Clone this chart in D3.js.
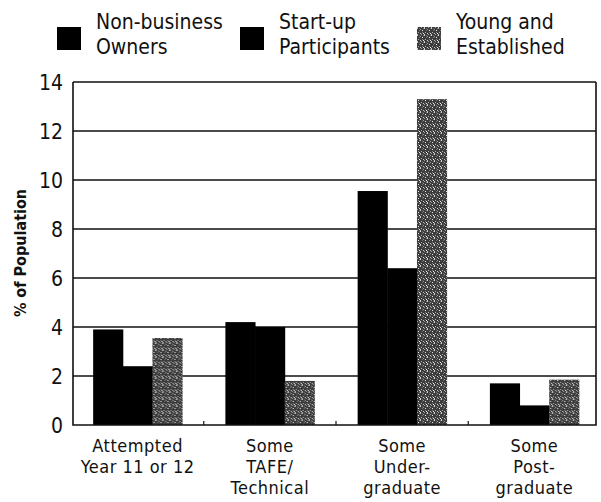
<!DOCTYPE html>
<html><head><meta charset="utf-8">
<script src="https://cdn.jsdelivr.net/npm/d3@7"></script>
<style>body{margin:0;background:#fff}svg{display:block}</style>
</head><body>
<svg id="c" width="601" height="502"></svg>
<script>
// ---- data ----
const categories = ["Attempted|Year 11 or 12", "Some|TAFE/|Technical", "Some|Under-|graduate", "Some|Post-|graduate"];
const seriesNames = ["Non-business|Owners", "Start-up|Participants", "Young and|Established"];
const nonBusiness = [3.9, 4.2, 9.55, 1.7];
const startUp = [2.4, 4.0, 6.4, 0.8];
const youngEstablished = [3.55, 1.8, 13.3, 1.85];
const yTicks = [0, 2, 4, 6, 8, 10, 12, 14];
const seriesValues = [nonBusiness, startUp, youngEstablished];

// ---- layout ----
const svg = d3.select("#c");
const FONT = "'DejaVu Sans Condensed', Roboto, sans-serif";
const pLeft = 73, pRight = 596, pTop = 82, pBottom = 425;

const defs = svg.append("defs");
const pat = defs.append("pattern").attr("id", "speck").attr("patternUnits", "userSpaceOnUse")
  .attr("width", 7).attr("height", 7);
pat.append("rect").attr("width", 7).attr("height", 7).attr("fill", "#3c3c3c");
[[0,0,"#cfcfcf"],[3,1,"#9a9a9a"],[5,2,"#e8e8e8"],[1,4,"#b0b0b0"],[6,5,"#f0f0f0"],[4,6,"#a0a0a0"],[2,2,"#707070"],[5,4,"#808080"],[0,6,"#d0d0d0"],[6,0,"#777"],[3,5,"#c8c8c8"],[2,0,"#666"]]
  .forEach(([x,y,c]) => pat.append("rect").attr("x", x).attr("y", y).attr("width", 1).attr("height", 1).attr("fill", c));

const fills = ["#000", "#000", "url(#speck)"];

const y = d3.scaleLinear().domain([0, 14]).range([pBottom, pTop]);
const x0 = d3.scaleBand().domain(categories).range([71.5, 600.5]).padding(0);
const x1 = d3.scaleBand().domain(seriesNames).range([0, x0.bandwidth()]).paddingInner(0).paddingOuter(0.73);

// gridlines
svg.append("g").selectAll("line").data(yTicks.filter(d => d > 0)).join("line")
  .attr("x1", pLeft).attr("x2", pRight).attr("y1", d => y(d)).attr("y2", d => y(d))
  .attr("stroke", "#111").attr("stroke-width", 1.4);

// bars
const groups = svg.append("g").selectAll("g").data(categories).join("g")
  .attr("transform", d => `translate(${x0(d)},0)`);
groups.selectAll("rect").data((c, i) => seriesNames.map((s, k) => ({s, k, v: seriesValues[k][i]}))).join("rect")
  .attr("x", d => x1(d.s)).attr("width", x1.bandwidth() + 0.5)
  .attr("y", d => y(d.v)).attr("height", d => y(0) - y(d.v))
  .attr("fill", d => fills[d.k]);

// frame
svg.append("path").attr("d", `M${pLeft},${pTop}V${pBottom}H${pRight}V${pTop}`)
  .attr("fill", "none").attr("stroke", "#111").attr("stroke-width", 1.6);

// y axis
const yAxis = d3.axisLeft(y).tickValues(yTicks).tickSize(0).tickPadding(10);
const ga = svg.append("g").attr("transform", `translate(${pLeft},0)`).call(yAxis);
ga.select(".domain").remove();
ga.selectAll("text").attr("font-family", FONT).attr("font-size", 21).attr("fill", "#111").attr("dy", "0.36em");

// x axis
const xAxis = d3.axisBottom(x0).tickSize(0).tickFormat("");
const gx = svg.append("g").attr("transform", `translate(0,${pBottom})`).call(xAxis);
gx.select(".domain").remove();
gx.selectAll(".tick text").remove();
gx.selectAll(".tick").each(function(d) {
  const t = d3.select(this).append("text").attr("text-anchor", "middle")
    .attr("font-family", FONT).attr("font-size", 18).attr("letter-spacing", 0.5).attr("fill", "#111");
  d.split("|").forEach((line, i) => t.append("tspan").attr("x", 0).attr("y", 27 + i * 21).text(line));
});
// band boundary ticks
svg.append("g").selectAll("line").data(categories.slice(1)).join("line")
  .attr("x1", d => x0(d)).attr("x2", d => x0(d)).attr("y1", pBottom).attr("y2", pBottom - 4)
  .attr("stroke", "#111").attr("stroke-width", 1.2);

// y title
svg.append("text").attr("transform", "translate(26,253) rotate(-90)").attr("text-anchor", "middle")
  .attr("font-family", FONT).attr("font-weight", "bold").attr("font-size", 16).attr("fill", "#111")
  .text("% of Population");

// legend
const legX = [57, 240, 417];
const lg = svg.append("g").selectAll("g").data(seriesNames).join("g")
  .attr("transform", (d, i) => `translate(${legX[i]},0)`);
lg.append("rect").attr("x", 0).attr("y", 27).attr("width", 24).attr("height", 23)
  .attr("fill", (d, i) => fills[i]);
lg.append("text").attr("font-family", FONT).attr("font-size", 21).attr("fill", "#111")
  .each(function(d) {
    d.split("|").forEach((line, i) => d3.select(this).append("tspan").attr("x", 39).attr("y", 29 + i * 25).text(line));
  });
</script>
</body></html>
